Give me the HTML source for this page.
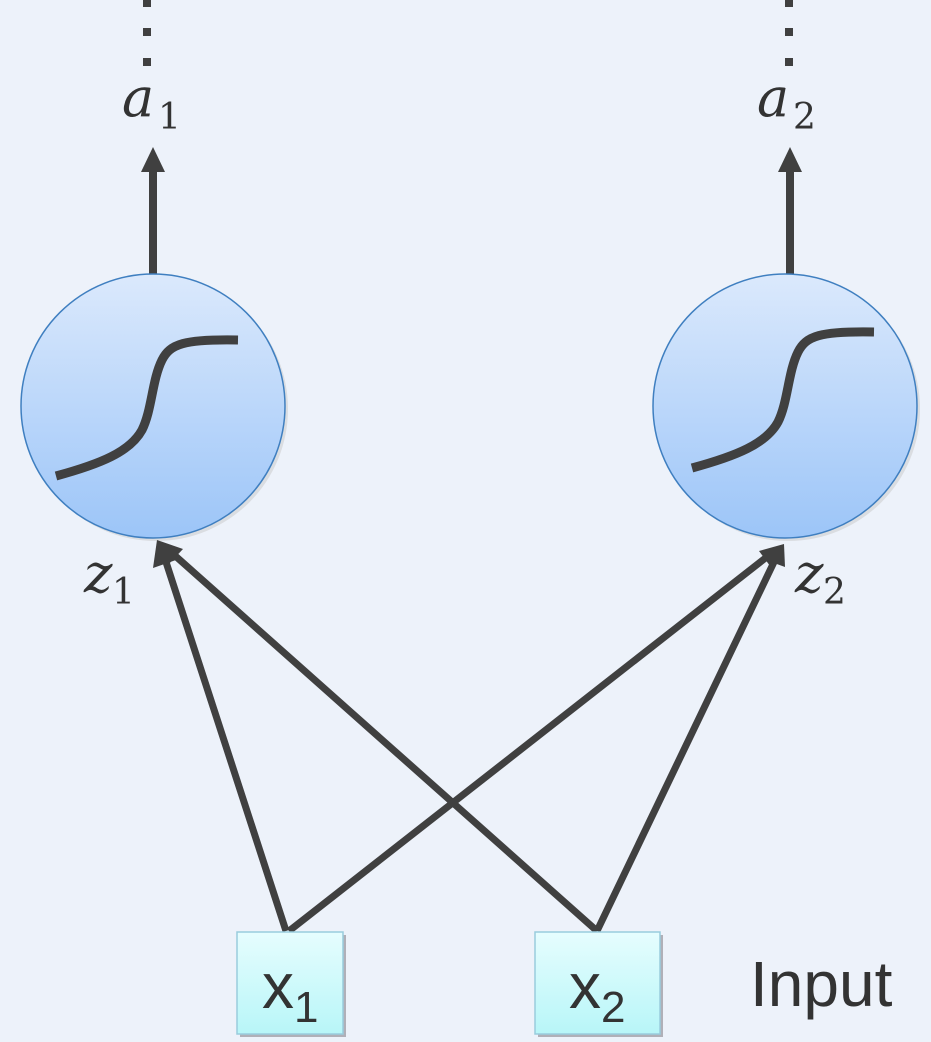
<!DOCTYPE html>
<html><head><style>
html,body{margin:0;padding:0;background:#edf2fa;}
svg{display:block;}
</style></head><body>
<svg width="931" height="1042" viewBox="0 0 931 1042" xmlns="http://www.w3.org/2000/svg">
<defs>
<linearGradient id="cg" x1="0" y1="0" x2="0" y2="1">
<stop offset="0" stop-color="#dbe9fc"/><stop offset="1" stop-color="#9cc5f8"/>
</linearGradient>
<linearGradient id="bg" x1="0" y1="0" x2="0" y2="1">
<stop offset="0" stop-color="#e6fdfe"/><stop offset="1" stop-color="#b8f6f8"/>
</linearGradient>
</defs>
<rect width="931" height="1042" fill="#edf2fa"/>
<g fill="#404040">
<rect x="143" y="0" width="8" height="7"/><rect x="143" y="28" width="8" height="8"/><rect x="143" y="58" width="8" height="8"/>
<rect x="785" y="0" width="8" height="7"/><rect x="785" y="28" width="8" height="8"/><rect x="785" y="58" width="8" height="8"/>
</g>
<g font-family="'DejaVu Serif','Liberation Serif',serif" font-style="italic" fill="#333" font-size="54">
<text x="122" y="116">a</text><text x="158" y="129" font-size="36" font-style="normal">1</text>
<text x="757" y="116">a</text><text x="793" y="129" font-size="36" font-style="normal">2</text>
<text x="84" y="592">z</text><text x="112" y="604" font-size="36" font-style="normal">1</text>
<text x="795" y="592">z</text><text x="823" y="604" font-size="36" font-style="normal">2</text>
</g>
<g stroke="#404040" stroke-width="8" fill="none">
<line x1="153" y1="276" x2="153" y2="170"/>
<line x1="790" y1="276" x2="790" y2="170"/>
</g>
<path d="M141,172 L153,147 L165,172 z" fill="#404040"/>
<path d="M778,172 L790,147 L802,172 z" fill="#404040"/>
<circle cx="156" cy="409" r="132" fill="#c8c8c8" opacity="0.5"/>
<circle cx="153" cy="406" r="132" fill="url(#cg)" stroke="#3f7fc0" stroke-width="1.5"/>
<circle cx="788" cy="409" r="132" fill="#c8c8c8" opacity="0.5"/>
<circle cx="785" cy="406" r="132" fill="url(#cg)" stroke="#3f7fc0" stroke-width="1.5"/>
<g stroke="#404040" stroke-width="9" fill="none">
<path d="M56,476 C100,464 130,452 142,430 C152,410 152,380 162,360 C170,344 184,339 238,340"/>
<path d="M692,468 C736,456 766,444 778,422 C788,402 788,372 798,352 C806,336 820,331 874,332"/>
</g>
<g stroke="#404040" stroke-width="7" fill="none">
<line x1="286" y1="931" x2="166" y2="562"/>
<line x1="597" y1="931" x2="172" y2="553"/>
<line x1="289" y1="931" x2="768" y2="556"/>
<line x1="597" y1="931" x2="774" y2="562"/>
</g>
<path d="M157,540 L176,560 L153,568 z" fill="#404040"/>
<path d="M157,540 L183,549 L167,566 z" fill="#404040"/>
<path d="M784,544 L773,570 L759,551 z" fill="#404040"/>
<path d="M784,544 L785,567 L763,559 z" fill="#404040"/>
<rect x="240" y="935" width="106" height="102" fill="#b0b0b8"/>
<rect x="237" y="932" width="106" height="102" fill="url(#bg)" stroke="#9cd" stroke-width="1.5"/>
<rect x="538" y="935" width="125" height="102" fill="#b0b0b8"/>
<rect x="535" y="932" width="125" height="102" fill="url(#bg)" stroke="#9cd" stroke-width="1.5"/>
<g font-family="'Liberation Sans',sans-serif" fill="#333">
<text x="262" y="1008" font-size="64">x</text><text x="294" y="1022" font-size="44">1</text>
<text x="569" y="1008" font-size="64">x</text><text x="601" y="1022" font-size="44">2</text>
<text x="750" y="1006" font-size="64">Input</text>
</g>
</svg>
</body></html>
